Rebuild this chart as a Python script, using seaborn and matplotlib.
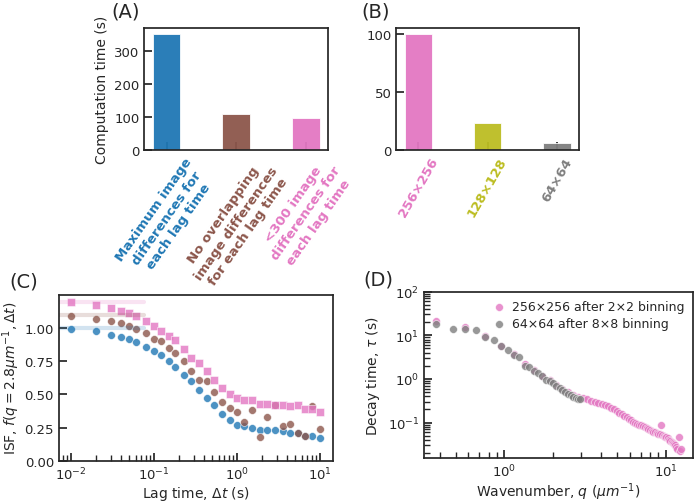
import matplotlib
matplotlib.use('Agg')

import matplotlib.pyplot as plt
import seaborn as sns

# Panel A - computation time by image-difference strategy
strategy_labels = ["Maximum image\ndifferences for\neach lag time",
                   "No overlapping\nimage differences\nfor each lag time",
                   "<300 image\ndifferences for\neach lag time"]
strategy_time = [350, 110, 97]

# Panel B - computation time by image size
size_labels = ["256×256", "128×128", "64×64"]
size_time = [100, 23, 6]

# Panel C - ISF at q = 2.8 um^-1 (as plotted, offset curves)
lag_time = [0.01, 0.02, 0.03, 0.04, 0.05, 0.06, 0.08, 0.1, 0.12, 0.15, 0.18, 0.23,
            0.28, 0.35, 0.43, 0.53, 0.66, 0.81, 1.0, 1.22, 1.51, 1.87, 2.31, 2.86,
            3.53, 4.33, 5.35, 6.6, 8.1, 10.0]
isf_max = [0.99, 0.975, 0.95, 0.93, 0.915, 0.895, 0.86, 0.83, 0.80, 0.75, 0.71, 0.65,
           0.60, 0.53, 0.475, 0.42, 0.35, 0.305, 0.27, 0.26, 0.25, 0.23, 0.235, 0.23,
           0.2225, 0.21, 0.21, 0.19, 0.19, 0.17]
isf_nooverlap = [1.09, 1.07, 1.05, 1.035, 1.015, 0.99, 0.96, 0.92, 0.90, 0.85, 0.81, 0.75,
                 0.68, 0.61, 0.60, 0.52, 0.44, 0.40, 0.365, 0.29, 0.38, 0.18, 0.33, 0.42,
                 0.26, 0.275, 0.21, 0.19, 0.41, 0.24]
isf_300 = [1.20, 1.175, 1.15, 1.13, 1.11, 1.09, 1.055, 1.015, 0.98, 0.94, 0.91, 0.84,
           0.775, 0.735, 0.675, 0.61, 0.55, 0.50, 0.47, 0.455, 0.455, 0.425, 0.425, 0.4225,
           0.42, 0.415, 0.42, 0.39, 0.39, 0.3675]
plateau_levels = [1.0, 1.1, 1.2]

# Panel D - decay time vs wavenumber
q_256 = [0.38, 0.57, 0.76, 0.955, 1.15, 1.34, 1.53, 1.72, 1.91, 2.10, 2.29, 2.48,
         2.67, 2.87, 3.06, 3.25, 3.44, 3.63, 3.82, 4.01, 4.20, 4.39, 4.58, 4.77,
         4.97, 5.16, 5.35, 5.54, 5.73, 5.92, 6.11, 6.30, 6.49, 6.68, 6.88, 7.07,
         7.26, 7.45, 7.64, 7.83, 8.02, 8.21, 8.40, 8.59, 8.78, 8.97, 9.17, 9.36,
         9.55, 9.74, 9.93, 10.12, 10.31, 10.50, 10.69, 10.88, 11.07, 11.27, 11.46, 11.65,
         11.84, 12.03, 12.22, 12.41]
tau_256 = [21.0, 15.5, 9.5, 5.8, 3.7, 2.2, 1.6, 1.2, 0.95, 0.74, 0.60, 0.50,
           0.44, 0.39, 0.36, 0.34, 0.32, 0.30, 0.285, 0.268, 0.252, 0.238, 0.222, 0.205,
           0.188, 0.170, 0.157, 0.145, 0.134, 0.122, 0.113, 0.106, 0.100, 0.095, 0.090, 0.086,
           0.082, 0.078, 0.075, 0.071, 0.068, 0.065, 0.062, 0.060, 0.058, 0.056, 0.054, 0.088,
           0.052, 0.050, 0.048, 0.046, 0.044, 0.041, 0.038, 0.036, 0.034, 0.032, 0.030, 0.027,
           0.025, 0.046, 0.022, 0.025]
q_64 = [0.38, 0.48, 0.57, 0.67, 0.76, 0.86, 0.955, 1.05, 1.15, 1.24, 1.34, 1.43,
        1.53, 1.62, 1.72, 1.81, 1.91, 2.01, 2.10, 2.20, 2.29, 2.39, 2.48, 2.58,
        2.67, 2.77, 2.87, 2.96]
tau_64 = [17.7, 14.3, 14.3, 12.9, 9.2, 7.8, 5.65, 4.6, 3.6, 3.15, 2.0, 1.85,
          1.55, 1.35, 1.15, 0.95, 0.9, 0.82, 0.70, 0.62, 0.56, 0.50, 0.46, 0.42,
          0.39, 0.36, 0.35, 0.34]

# Style
sns.set_theme(style="ticks", rc={
    "xtick.direction": "in", "ytick.direction": "in",
    "axes.linewidth": 1.25, "font.size": 10,
    "axes.labelsize": 10, "xtick.labelsize": 9.5, "ytick.labelsize": 9.5,
    "legend.fontsize": 9,
})
plt.rcParams['font.family'] = ['DejaVu Sans']

pal = sns.color_palette("tab10")
blue, brown, pink, gray, olive = pal[0], pal[5], pal[6], pal[7], pal[8]

fig = plt.figure(figsize=(7, 5.02), dpi=100)
axA = fig.add_axes([0.206, 0.699, 0.263, 0.243])
axB = fig.add_axes([0.566, 0.699, 0.261, 0.243])
axC = fig.add_axes([0.084, 0.080, 0.391, 0.331])
axD = fig.add_axes([0.606, 0.086, 0.384, 0.331])

# (A)
colorsA = [blue, brown, pink]
sns.barplot(x=strategy_labels, y=strategy_time, hue=strategy_labels, palette=colorsA,
            width=0.4, saturation=1, legend=False, edgecolor="white", linewidth=0.6,
            alpha=0.95, ax=axA)
axA.set_xlim(-0.32, 2.32)
axA.set_ylabel("Computation time (s)")
axA.set_xticks(range(3))
axA.set_xticklabels(strategy_labels, rotation=55, ha="center", fontweight="bold",
                    multialignment="center")
for lbl, c in zip(axA.get_xticklabels(), colorsA):
    lbl.set_color(c)

# (B)
colorsB = [pink, olive, gray]
sns.barplot(x=size_labels, y=size_time, hue=size_labels, palette=colorsB,
            width=0.4, saturation=1, legend=False, edgecolor="white", linewidth=0.6,
            alpha=0.95, ax=axB)
axB.set_xlim(-0.32, 2.32)
axB.set_ylabel("")
axB.set_xticks(range(3))
axB.set_xticklabels(size_labels, rotation=60, ha="center", fontweight="bold")
for lbl, c in zip(axB.get_xticklabels(), colorsB):
    lbl.set_color(c)

# (C)
for lvl, c in zip(plateau_levels, [blue, brown, pink]):
    axC.axhline(lvl, xmax=0.31, color=c, lw=3, alpha=0.2)
sns.scatterplot(x=lag_time, y=isf_max, color=blue, s=32, alpha=0.8, ax=axC)
sns.scatterplot(x=lag_time, y=isf_nooverlap, color=brown, s=32, alpha=0.8, ax=axC)
sns.scatterplot(x=lag_time, y=isf_300, color=pink, marker="s", s=30, alpha=0.8, ax=axC)
axC.set_xscale("log")
axC.set_ylim(bottom=0)
axC.set_yticks([0, 0.25, 0.5, 0.75, 1.0])
axC.set_xlabel(r"Lag time, $\Delta t$ (s)", labelpad=1)
axC.set_ylabel(r"ISF, $f(q=2.8\mu m^{-1}, \Delta t)$", labelpad=1.5)

# (D)
sns.scatterplot(x=q_256, y=tau_256, color=pink, s=32, alpha=0.8,
                label="256×256 after 2×2 binning", ax=axD)
sns.scatterplot(x=q_64, y=tau_64, color=gray, s=32, alpha=0.8,
                label="64×64 after 8×8 binning", ax=axD)
axD.set_xscale("log")
axD.set_yscale("log")
axD.set_ylim(top=100)
axD.set_xlabel(r"Wavenumber, $q$ ($\mu m^{-1}$)", labelpad=1)
axD.set_ylabel(r"Decay time, $\tau$ (s)")
axD.legend(loc="upper right", frameon=False, handletextpad=0.05, borderaxespad=0.3,
           labelspacing=0.3)

for ax in (axA, axB, axC, axD):
    for s in ax.spines.values():
        s.set_visible(True)
    ax.tick_params(which="both", direction="in", top=False, right=False)

fig.text(0.179, 0.976, "(A)", fontsize=14, ha="center", va="center")
fig.text(0.537, 0.976, "(B)", fontsize=14, ha="center", va="center")
fig.text(0.034, 0.438, "(C)", fontsize=14, ha="center", va="center")
fig.text(0.540, 0.442, "(D)", fontsize=14, ha="center", va="center")

fig.savefig("out.png", dpi=100)
